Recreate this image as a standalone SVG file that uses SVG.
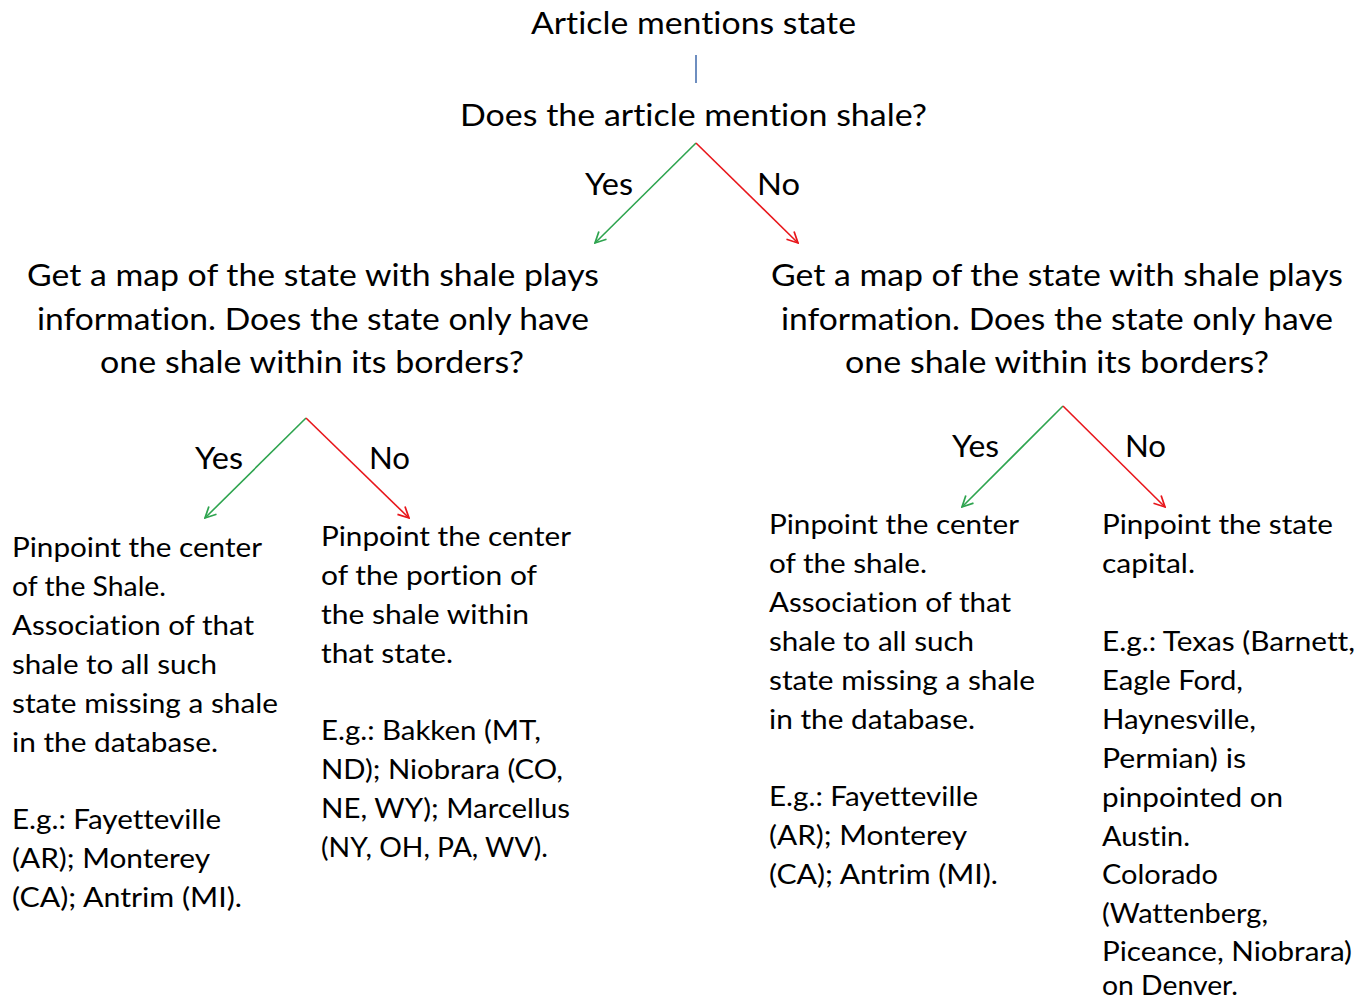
<svg xmlns="http://www.w3.org/2000/svg" width="1360" height="1002" viewBox="0 0 1360 1002">
<style>
text{font-family:Lato,"Open Sans","Liberation Sans",sans-serif;fill:#000;font-variant-ligatures:none}
.h{font-size:31px;text-anchor:middle}
.lbl{font-size:31px}
.b{font-size:26px}
.g{stroke:#2ea44f;stroke-width:1.6;fill:none}
.r{stroke:#e8161b;stroke-width:1.6;fill:none}
</style>
<defs>
<marker id="ag" viewBox="0 0 12 12" refX="11" refY="6" markerWidth="13" markerHeight="13" markerUnits="userSpaceOnUse" orient="auto"><path d="M1,1 L11,6 L1,11" fill="none" stroke="#2ea44f" stroke-width="1.6"/></marker>
<marker id="ar" viewBox="0 0 12 12" refX="11" refY="6" markerWidth="13" markerHeight="13" markerUnits="userSpaceOnUse" orient="auto"><path d="M1,1 L11,6 L1,11" fill="none" stroke="#e8161b" stroke-width="1.6"/></marker>
</defs>
<rect width="1360" height="1002" fill="#fff"/>
<g id="connectors">
<line x1="696" y1="55" x2="696" y2="83" stroke="#4a72b0" stroke-width="1.6"/>
<line class="g" x1="696" y1="143" x2="595" y2="243" marker-end="url(#ag)"/>
<line class="r" x1="696" y1="143" x2="798" y2="243" marker-end="url(#ar)"/>
<line class="g" x1="306" y1="418" x2="205" y2="518" marker-end="url(#ag)"/>
<line class="r" x1="306" y1="418" x2="409" y2="518" marker-end="url(#ar)"/>
<line class="g" x1="1063" y1="406" x2="962" y2="507" marker-end="url(#ag)"/>
<line class="r" x1="1063" y1="406" x2="1165" y2="507" marker-end="url(#ar)"/>
<text class="lbl" x="585" y="195" textLength="48" lengthAdjust="spacingAndGlyphs">Yes</text>
<text class="lbl" x="757" y="195" textLength="43" lengthAdjust="spacingAndGlyphs">No</text>
<text class="lbl" x="195" y="469" textLength="48" lengthAdjust="spacingAndGlyphs">Yes</text>
<text class="lbl" x="369" y="469" textLength="41" lengthAdjust="spacingAndGlyphs">No</text>
<text class="lbl" x="952" y="457" textLength="47" lengthAdjust="spacingAndGlyphs">Yes</text>
<text class="lbl" x="1125" y="457" textLength="41" lengthAdjust="spacingAndGlyphs">No</text>
</g>
<g id="start">
<text class="h" x="693.5" y="34" textLength="325" lengthAdjust="spacingAndGlyphs">Article mentions state</text>
</g>
<g id="q-shale">
<text class="h" x="693.5" y="126" textLength="467" lengthAdjust="spacingAndGlyphs">Does the article mention shale?</text>
</g>
<g id="map-yes">
<text class="h" x="313" y="286" textLength="572" lengthAdjust="spacingAndGlyphs">Get a map of the state with shale plays</text>
<text class="h" x="313" y="330" textLength="552" lengthAdjust="spacingAndGlyphs">information. Does the state only have</text>
<text class="h" x="312" y="373" textLength="424" lengthAdjust="spacingAndGlyphs">one shale within its borders?</text>
</g>
<g id="map-no">
<text class="h" x="1057" y="286" textLength="572" lengthAdjust="spacingAndGlyphs">Get a map of the state with shale plays</text>
<text class="h" x="1057" y="330" textLength="552" lengthAdjust="spacingAndGlyphs">information. Does the state only have</text>
<text class="h" x="1057" y="373" textLength="424" lengthAdjust="spacingAndGlyphs">one shale within its borders?</text>
</g>
<g id="leaf-1">
<text class="b" x="12" y="557" textLength="250" lengthAdjust="spacingAndGlyphs">Pinpoint the center</text>
<text class="b" x="12" y="596" textLength="154" lengthAdjust="spacingAndGlyphs">of the Shale.</text>
<text class="b" x="12" y="635" textLength="242" lengthAdjust="spacingAndGlyphs">Association of that</text>
<text class="b" x="12" y="674" textLength="205" lengthAdjust="spacingAndGlyphs">shale to all such</text>
<text class="b" x="12" y="713" textLength="266" lengthAdjust="spacingAndGlyphs">state missing a shale</text>
<text class="b" x="12" y="752" textLength="206" lengthAdjust="spacingAndGlyphs">in the database.</text>
<text class="b" x="12" y="829" textLength="209" lengthAdjust="spacingAndGlyphs">E.g.: Fayetteville</text>
<text class="b" x="12" y="868" textLength="198" lengthAdjust="spacingAndGlyphs">(AR); Monterey</text>
<text class="b" x="12" y="907" textLength="230" lengthAdjust="spacingAndGlyphs">(CA); Antrim (MI).</text>
</g>
<g id="leaf-2">
<text class="b" x="321" y="546" textLength="250" lengthAdjust="spacingAndGlyphs">Pinpoint the center</text>
<text class="b" x="321" y="585" textLength="216" lengthAdjust="spacingAndGlyphs">of the portion of</text>
<text class="b" x="321" y="624" textLength="208" lengthAdjust="spacingAndGlyphs">the shale within</text>
<text class="b" x="321" y="663" textLength="132" lengthAdjust="spacingAndGlyphs">that state.</text>
<text class="b" x="321" y="740" textLength="220" lengthAdjust="spacingAndGlyphs">E.g.: Bakken (MT,</text>
<text class="b" x="321" y="779" textLength="242" lengthAdjust="spacingAndGlyphs">ND); Niobrara (CO,</text>
<text class="b" x="321" y="818" textLength="249" lengthAdjust="spacingAndGlyphs">NE, WY); Marcellus</text>
<text class="b" x="321" y="857" textLength="227" lengthAdjust="spacingAndGlyphs">(NY, OH, PA, WV).</text>
</g>
<g id="leaf-3">
<text class="b" x="769" y="534" textLength="250" lengthAdjust="spacingAndGlyphs">Pinpoint the center</text>
<text class="b" x="769" y="573" textLength="158" lengthAdjust="spacingAndGlyphs">of the shale.</text>
<text class="b" x="769" y="612" textLength="242" lengthAdjust="spacingAndGlyphs">Association of that</text>
<text class="b" x="769" y="651" textLength="205" lengthAdjust="spacingAndGlyphs">shale to all such</text>
<text class="b" x="769" y="690" textLength="266" lengthAdjust="spacingAndGlyphs">state missing a shale</text>
<text class="b" x="769" y="729" textLength="206" lengthAdjust="spacingAndGlyphs">in the database.</text>
<text class="b" x="769" y="806" textLength="209" lengthAdjust="spacingAndGlyphs">E.g.: Fayetteville</text>
<text class="b" x="769" y="845" textLength="198" lengthAdjust="spacingAndGlyphs">(AR); Monterey</text>
<text class="b" x="769" y="884" textLength="229" lengthAdjust="spacingAndGlyphs">(CA); Antrim (MI).</text>
</g>
<g id="leaf-4">
<text class="b" x="1102" y="534" textLength="231" lengthAdjust="spacingAndGlyphs">Pinpoint the state</text>
<text class="b" x="1102" y="573" textLength="93" lengthAdjust="spacingAndGlyphs">capital.</text>
<text class="b" x="1102" y="651" textLength="253" lengthAdjust="spacingAndGlyphs">E.g.: Texas (Barnett,</text>
<text class="b" x="1102" y="690" textLength="141" lengthAdjust="spacingAndGlyphs">Eagle Ford,</text>
<text class="b" x="1102" y="729" textLength="154" lengthAdjust="spacingAndGlyphs">Haynesville,</text>
<text class="b" x="1102" y="768" textLength="144" lengthAdjust="spacingAndGlyphs">Permian) is</text>
<text class="b" x="1102" y="807" textLength="181" lengthAdjust="spacingAndGlyphs">pinpointed on</text>
<text class="b" x="1102" y="846" textLength="88" lengthAdjust="spacingAndGlyphs">Austin.</text>
<text class="b" x="1102" y="884" textLength="116" lengthAdjust="spacingAndGlyphs">Colorado</text>
<text class="b" x="1102" y="923" textLength="166" lengthAdjust="spacingAndGlyphs">(Wattenberg,</text>
<text class="b" x="1102" y="961" textLength="250" lengthAdjust="spacingAndGlyphs">Piceance, Niobrara)</text>
<text class="b" x="1102" y="995" textLength="136" lengthAdjust="spacingAndGlyphs">on Denver.</text>
</g>
</svg>
